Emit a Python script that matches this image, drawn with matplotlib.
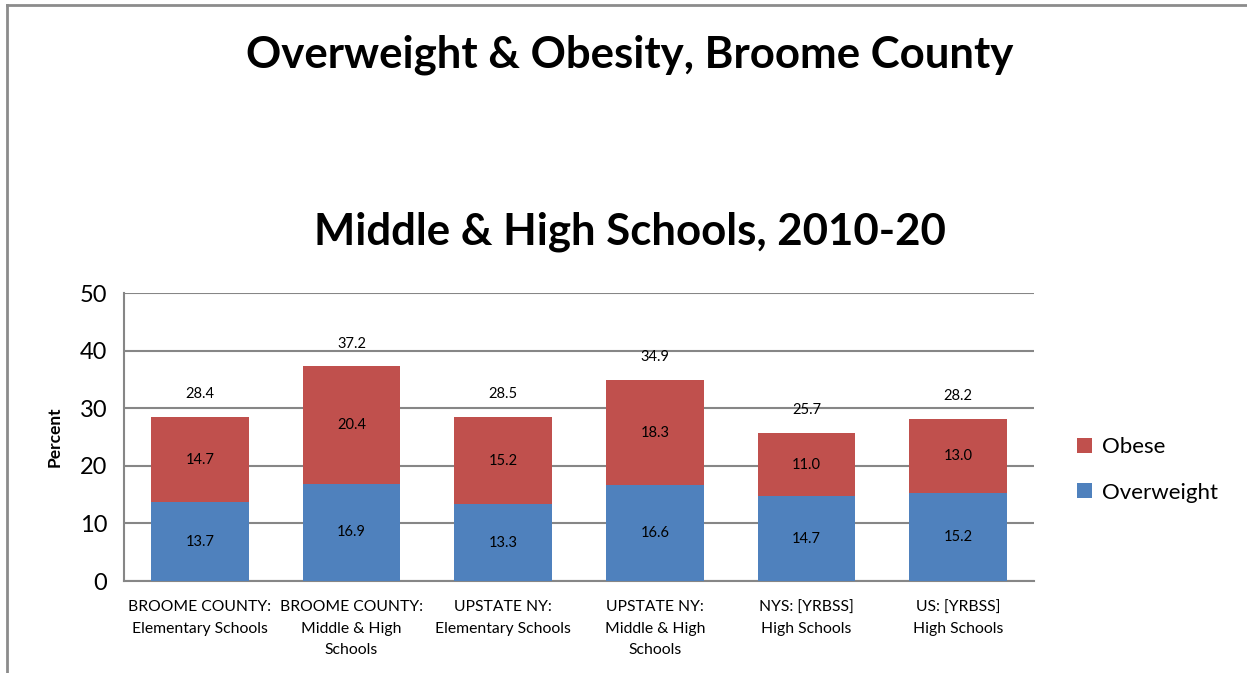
import matplotlib

matplotlib.use("Agg")
import matplotlib.pyplot as plt
from matplotlib.lines import Line2D

plt.rcParams["font.family"] = ["Lato", "DejaVu Sans"]

categories = [
    "BROOME COUNTY:\nElementary Schools",
    "BROOME COUNTY:\nMiddle & High\nSchools",
    "UPSTATE NY:\nElementary Schools",
    "UPSTATE NY:\nMiddle & High\nSchools",
    "NYS: [YRBSS]\nHigh Schools",
    "US: [YRBSS]\nHigh Schools",
]
overweight = [13.7, 16.9, 13.3, 16.6, 14.7, 15.2]
obese = [14.7, 20.4, 15.2, 18.3, 11.0, 13.0]
totals = [28.4, 37.2, 28.5, 34.9, 25.7, 28.2]

blue = "#4F81BD"
red = "#C0504D"
grid_color = "#868686"

fig = plt.figure(figsize=(12.47, 6.73), dpi=100)
ax = fig.add_axes([124 / 1247, 1 - 581 / 673, 910 / 1247, 288 / 673])

x = list(range(len(categories)))
width = 0.645
ax.bar(x, overweight, width, color=blue, label="Overweight", zorder=3)
ax.bar(x, obese, width, bottom=overweight, color=red, label="Obese", zorder=3)

for i in x:
    ax.text(i, overweight[i] / 2, f"{overweight[i]:.1f}", ha="center", va="center", fontsize=10.5, zorder=4)
    ax.text(i, overweight[i] + obese[i] / 2, f"{obese[i]:.1f}", ha="center", va="center", fontsize=10.5, zorder=4)
    ax.text(i, totals[i] + 4.0, f"{totals[i]:.1f}", ha="center", va="center", fontsize=10.5, zorder=4)

ax.set_xlim(-0.5, len(categories) - 0.5)
ax.set_ylim(0, 50)
ax.set_yticks(range(0, 51, 10))
ax.set_xticks(x)
ax.set_xticklabels(categories, fontsize=11.3, linespacing=1.68)
ax.tick_params(axis="x", length=0, pad=14)
ax.tick_params(axis="y", labelsize=17, length=0, pad=12)
ax.grid(axis="y", color=grid_color, linewidth=1.5, zorder=0)
for side in ["top", "right"]:
    ax.spines[side].set_visible(False)
for side in ["left", "bottom"]:
    ax.spines[side].set_color(grid_color)
    ax.spines[side].set_linewidth(1.5)
ax.set_ylabel("Percent", fontsize=12.5, fontweight="bold", labelpad=12)

handles, labels = ax.get_legend_handles_labels()
ax.legend(handles[::-1], labels[::-1], loc="center left", bbox_to_anchor=(0.848, 0.302),
          bbox_transform=fig.transFigure, frameon=False, fontsize=16,
          handlelength=0.65, handleheight=0.65, handletextpad=0.45, labelspacing=1.15)

fig.text(0.505, 0.918, "Overweight & Obesity, Broome County", ha="center", va="center",
         fontsize=31.5, fontweight="bold")
fig.text(0.505, 0.655, "Middle & High Schools, 2010-20", ha="center", va="center",
         fontsize=31.5, fontweight="bold")

# page border on the top and left
fig.add_artist(Line2D([6.5 / 1247, 1], [1 - 5 / 673, 1 - 5 / 673], transform=fig.transFigure,
                      color="#8c8c8c", linewidth=2))
fig.add_artist(Line2D([6.5 / 1247, 6.5 / 1247], [0, 1 - 5 / 673], transform=fig.transFigure,
                      color="#8c8c8c", linewidth=2))

fig.savefig("out.png", dpi=100)
plt.close(fig)
